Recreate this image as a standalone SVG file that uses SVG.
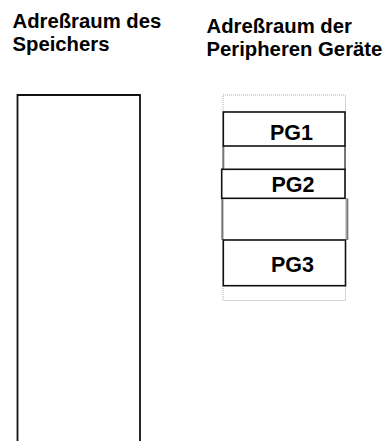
<svg xmlns="http://www.w3.org/2000/svg" width="385" height="441" viewBox="0 0 385 441">
<style>
.t{font-family:"Liberation Sans",Arial,sans-serif;font-weight:bold;font-size:20.3px;fill:#000}
.pg{font-family:"Liberation Sans",Arial,sans-serif;font-weight:bold;font-size:21.5px;fill:#000}
.box{fill:#fff;stroke:#111;stroke-width:1.6}
.dot{fill:none;stroke:#aaa;stroke-width:1;stroke-dasharray:1 1}
.gap{fill:none;stroke:#777;stroke-width:2}
</style>
<rect width="385" height="441" fill="#fff"/>
<g id="title-left">
<text class="t" x="12.5" y="28">Adreßraum des</text>
<text class="t" x="12.5" y="50.5">Speichers</text>
</g>
<g id="title-right">
<text class="t" x="206.5" y="32.5">Adreßraum der</text>
<text class="t" x="206.5" y="55.5">Peripheren Geräte</text>
</g>
<g id="speicher">
<path d="M17.5,445 V95 H140 V445" fill="none" stroke="#111" stroke-width="1.8"/>
</g>
<g id="peripherie">
<rect class="dot" x="223" y="95" width="122.5" height="205.5"/>
<line class="gap" x1="223.3" y1="146" x2="223.3" y2="169.3"/>
<line class="gap" x1="345" y1="146" x2="345" y2="169.3"/>
<line class="gap" x1="222.3" y1="198.3" x2="222.3" y2="240"/>
<line class="gap" x1="347.3" y1="198.3" x2="347.3" y2="240"/>
</g>
<g id="pg1">
<rect class="box" x="223.3" y="112" width="121.7" height="34"/>
<text class="pg" x="270" y="139.5">PG1</text>
</g>
<g id="pg2">
<rect class="box" x="221.7" y="169.3" width="123.3" height="29"/>
<text class="pg" x="271.5" y="191.5">PG2</text>
</g>
<g id="pg3">
<rect class="box" x="223.3" y="240" width="122.2" height="45.7"/>
<text class="pg" x="271" y="271.5">PG3</text>
</g>
</svg>
